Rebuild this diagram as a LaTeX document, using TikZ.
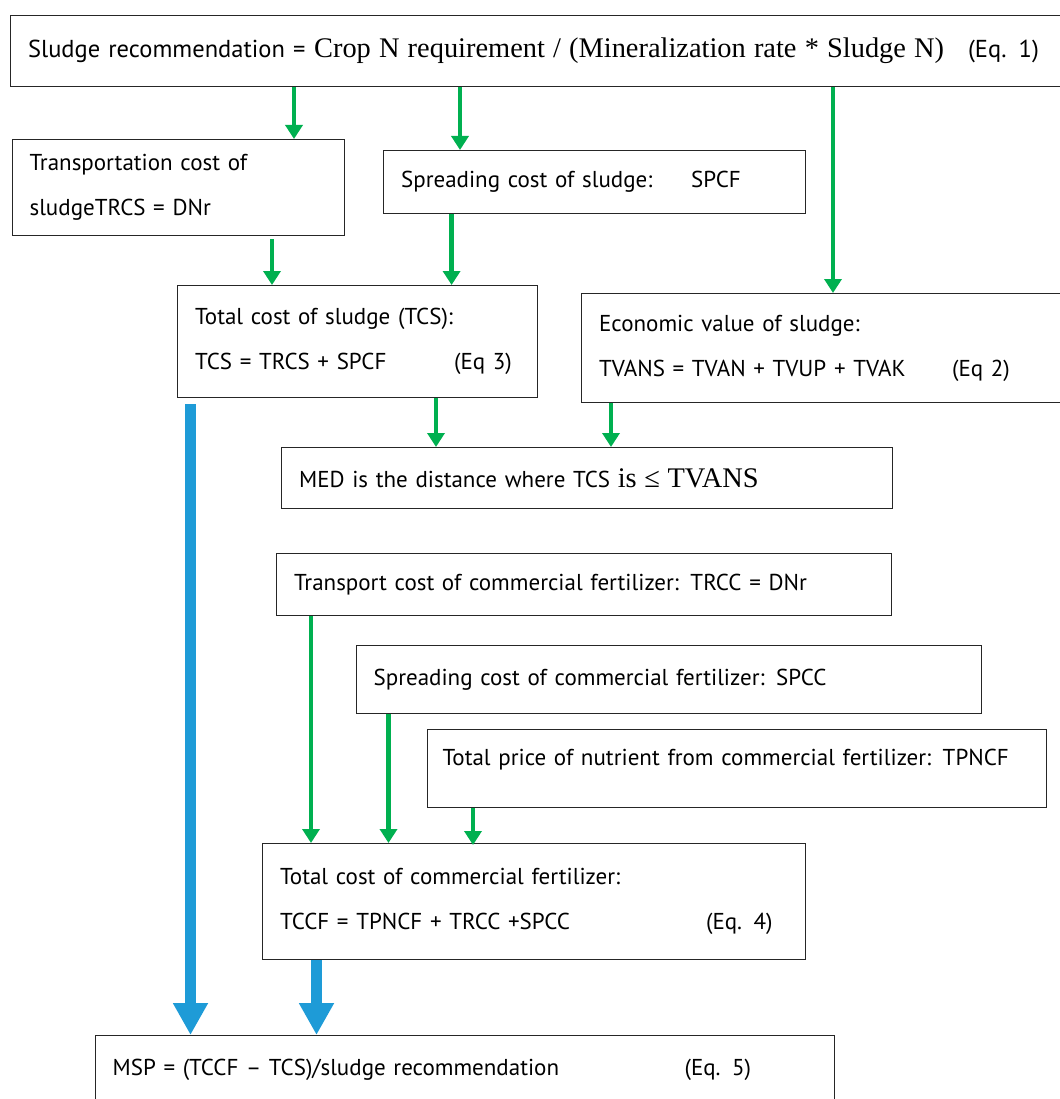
\documentclass[tikz,border=0pt]{standalone}
\usepackage{fontspec}
\setmainfont{PT Sans}
\newfontfamily\tnr{Liberation Serif}
\usetikzlibrary{arrows.meta,calc}
\definecolor{gr}{RGB}{0,176,80}
\definecolor{bl}{RGB}{30,155,215}
\newcommand{\serifbig}{\tnr\fontsize{28.4}{34}\selectfont}
\begin{document}
\begin{tikzpicture}[x=1pt,y=-1pt,
  box/.style={draw=black!85, line width=1.2pt, anchor=north west, align=left,
    inner xsep=17.5pt, inner ysep=0pt, font=\fontsize{23}{45}\selectfont},
  garrow/.style={draw=gr, line width=4.5pt, -{Triangle[width=17pt,length=14pt]}},
  barrow/.style={draw=bl, line width=10.7pt, -{Triangle[width=33pt,length=32pt]}},
  ]
\useasboundingbox (0,0) rectangle (1059,1099);

\node[box, minimum width=1100, minimum height=71, text width=1065, font=\fontsize{24.5}{30}\selectfont] (top) at (10,15)
  {\makebox[286pt][l]{Sludge recommendation =}\makebox[654pt][l]{\serifbig Crop N requirement / (Mineralization rate * Sludge N)}(Eq. 1)};
\node[box, minimum width=332.5, minimum height=96, text width=297.5] (trans) at (11.5,139)
  {Transportation cost of\\sludgeTRCS = DNr};
\node[box, minimum width=422, minimum height=63, text width=387] (spread) at (383,150)
  {\makebox[290pt][l]{Spreading cost of sludge:}SPCF};
\node[box, minimum width=360, minimum height=112, text width=325] (tcs) at (177,285)
  {Total cost of sludge (TCS):\\\makebox[259pt][l]{TCS = TRCS + SPCF}(Eq 3)};
\node[box, minimum width=600, minimum height=109, text width=565] (econ) at (581,293)
  {Economic value of sludge:\\\makebox[353pt][l]{TVANS = TVAN + TVUP + TVAK}(Eq 2)};
\node[box, minimum width=611, minimum height=61, text width=576] (med) at (281,447)
  {MED is the distance where TCS {\serifbig is ≤ TVANS}};
\node[box, minimum width=615, minimum height=62, text width=580] (tcf) at (276,553)
  {Transport cost of commercial fertilizer: TRCC = DNr};
\node[box, minimum width=625.5, minimum height=68, text width=590.5] (scf) at (355.5,645)
  {Spreading cost of commercial fertilizer: SPCC};
\node[box, minimum width=619, minimum height=78, text width=589, inner xsep=15pt, text depth=23pt] (tpn) at (427,729)
  {Total price of nutrient from commercial fertilizer: TPNCF};
\node[box, minimum width=543, minimum height=116, text width=508] (tccf) at (262,843)
  {Total cost of commercial fertilizer:\\\makebox[426pt][l]{TCCF = TPNCF + TRCC +SPCC}(Eq. 4)};
\node[box, minimum width=739, minimum height=68, text width=704] (msp) at (94.5,1035)
  {\makebox[572pt][l]{MSP = (TCCF – TCS)/sludge recommendation}(Eq. 5)};

% green connectors
\coordinate (c1) at ($(trans.north west)+(282.5,0)$);
\coordinate (c2) at ($(spread.north west)+(77,0)$);
\coordinate (c3) at ($(econ.north west)+(252,0)$);
\coordinate (c4) at ($(tcs.north west)+(95,0)$);
\coordinate (c5) at ($(tcs.north west)+(274.6,0)$);
\coordinate (c6) at ($(med.north west)+(155,0)$);
\coordinate (c7) at ($(med.north west)+(330,0)$);
\coordinate (c8) at ($(tccf.north west)+(49,0)$);
\coordinate (c9) at ($(tccf.north west)+(126.5,0)$);
\coordinate (c10) at ($(tccf.north west)+(211,0)$);
\coordinate (c11) at ($(msp.north west)+(96,0)$);
\coordinate (c12) at ($(msp.north west)+(222,0)$);

\draw[garrow] (top.south -| c1) -- (c1);
\draw[garrow] (top.south -| c2) -- (c2);
\draw[garrow] (top.south -| c3) -- (c3);
\draw[garrow] ($(trans.south -| c4)+(0,3)$) -- (c4);
\draw[garrow] (spread.south -| c5) -- (c5);
\draw[garrow] (tcs.south -| c6) -- (c6);
\draw[garrow] (econ.south -| c7) -- (c7);
\draw[garrow] (tcf.south -| c8) -- (c8);
\draw[garrow] (scf.south -| c9) -- (c9);
\draw[garrow] (tpn.south -| c10) -- ($(c10)+(0,2)$);
% blue connectors
\draw[barrow] ($(tcs.south -| c11)+(0,6)$) -- (c11);
\draw[barrow] (tccf.south -| c12) -- (c12);
\end{tikzpicture}
\end{document}
